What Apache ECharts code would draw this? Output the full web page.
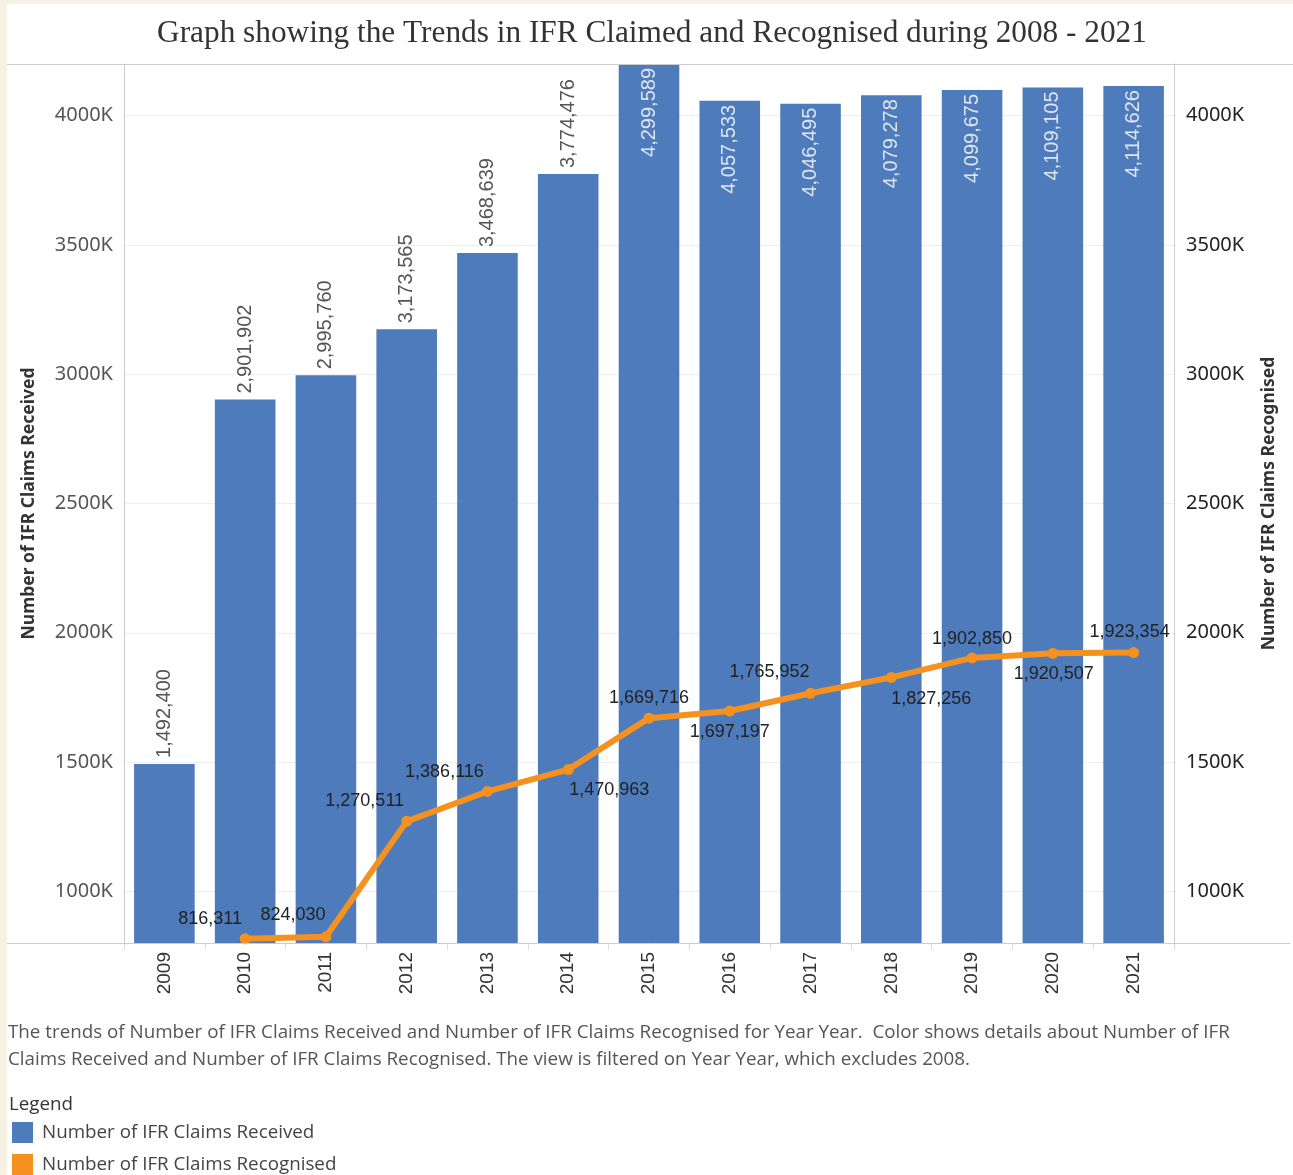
<!DOCTYPE html>
<html>
<head>
<meta charset="utf-8">
<script src="https://cdn.jsdelivr.net/npm/echarts@6/dist/echarts.min.js"></script>
<style>
html,body{margin:0;padding:0;background:#f6f1e3;}
#chart{width:1293px;height:1175px;}
</style>
</head>
<body>
<div id="chart"></div>
<script>
const years = ['2009','2010','2011','2012','2013','2014','2015','2016','2017','2018','2019','2020','2021'];
const received = [1492400, 2901902, 2995760, 3173565, 3468639, 3774476, 4299589, 4057533, 4046495, 4079278, 4099675, 4109105, 4114626];
const recognised = [null, 816311, 824030, 1270511, 1386116, 1470963, 1669716, 1697197, 1765952, 1827256, 1902850, 1920507, 1923354];
const yTicks = [1000000, 1500000, 2000000, 2500000, 3000000, 3500000, 4000000];
const yMin = 800000, yMax = 4200000;
const seriesNames = ['Number of IFR Claims Received', 'Number of IFR Claims Recognised'];

// label offsets for line labels (style only)
const lineLabelOffsets = [[0,0],[-35,-20],[-33,-22],[-42,-20],[-43,-19],[41,20],[0,-20],[0,21],[-41,-21],[40,22],[0,-19],[1,21],[-4,-21]];
const colors = ['#4e7bbb', '#f5911e'];

const fmt = v => v.toLocaleString('en-US');
const kfmt = v => (v/1000) + 'K';

const barData = received.map((v, i) => {
  const inside = v > 4000000;
  return {
    value: v,
    label: inside
      ? {position: 'insideTop', align: 'right', distance: 4, color: '#dfe6f1'}
      : {position: 'top', align: 'left', distance: 6, color: '#555'}
  };
});
const lineData = recognised.map((v, i) => ({
  value: v,
  label: {offset: lineLabelOffsets[i]}
}));

const chart = echarts.init(document.getElementById('chart'));
const gridLeft = 124, gridRight = 1293 - 1174, gridTop = 64, gridBottom = 1175 - 943;

const legendGraphics = [];
seriesNames.forEach((n, i) => {
  legendGraphics.push({type: 'rect', silent: true, shape: {x: 12, y: 1122 + i * 32, width: 21, height: 21}, style: {fill: colors[i]}});
  legendGraphics.push({type: 'text', silent: true, x: 42, y: 1133 + i * 32, style: {text: n, fontFamily: 'Open Sans', fontSize: 18.8, fill: '#444', verticalAlign: 'middle'}});
});

const option = {
  backgroundColor: '#f6f1e3',
  animation: false,
  title: {
    text: 'Graph showing the Trends in IFR Claimed and Recognised during 2008 - 2021',
    left: 647, textAlign: 'center', top: 13,
    textStyle: {fontFamily: 'Liberation Serif', fontSize: 31.3, fontWeight: 'normal', color: '#333'}
  },
  grid: {left: gridLeft, right: gridRight, top: gridTop, bottom: gridBottom},
  xAxis: {
    type: 'category', data: years,
    axisLine: {show: false},
    axisTick: {show: true, length: 7, lineStyle: {color: '#ddd'}},
    axisLabel: {rotate: 90, margin: 9, fontFamily: 'Liberation Sans', fontSize: 19, color: '#333'}
  },
  yAxis: [
    {
      type: 'value', min: yMin, max: yMax, position: 'left',
      name: seriesNames[0], nameLocation: 'middle', nameGap: 86, nameRotate: 90,
      nameTextStyle: {fontFamily: 'Noto Sans', fontSize: 17.5, fontWeight: 'bold', color: '#333'},
      axisLine: {show: true, lineStyle: {color: '#ccc'}},
      axisTick: {show: false, customValues: yTicks},
      axisLabel: {customValues: yTicks, formatter: kfmt, margin: 11, fontFamily: 'Noto Sans', fontSize: 20, color: '#555'},
      splitLine: {show: true, lineStyle: {color: '#eee', width: 1}}
    },
    {
      type: 'value', min: yMin, max: yMax, position: 'right',
      name: seriesNames[1], nameLocation: 'middle', nameGap: 86, nameRotate: 90,
      nameTextStyle: {fontFamily: 'Noto Sans', fontSize: 17.5, fontWeight: 'bold', color: '#333'},
      axisLine: {show: true, lineStyle: {color: '#ccc'}},
      axisTick: {show: false, customValues: yTicks},
      axisLabel: {customValues: yTicks, formatter: kfmt, margin: 12, fontFamily: 'Noto Sans', fontSize: 20, color: '#222'},
      splitLine: {show: false}
    }
  ],
  series: [
    {
      name: seriesNames[0], type: 'bar', yAxisIndex: 0,
      data: barData, barCategoryGap: '25%',
      itemStyle: {color: colors[0]},
      label: {show: true, rotate: 90, verticalAlign: 'middle', formatter: p => fmt(p.value),
        fontFamily: 'Liberation Sans', fontSize: 20}
    },
    {
      name: seriesNames[1], type: 'line', yAxisIndex: 1,
      data: lineData, connectNulls: false,
      symbol: 'circle', symbolSize: 11,
      lineStyle: {color: colors[1], width: 6},
      itemStyle: {color: colors[1]},
      z: 5,
      label: {show: true, position: 'inside', align: 'center', verticalAlign: 'middle',
        formatter: p => fmt(p.value), fontFamily: 'Liberation Sans', fontSize: 18, color: '#222'}
    }
  ],
  graphic: [
    {type: 'rect', z: -100, silent: true, shape: {x: 7, y: 4, width: 1286, height: 1171}, style: {fill: '#fff'}},
    {type: 'line', z: 10, silent: true, shape: {x1: 7, y1: 64.5, x2: 1293, y2: 64.5}, style: {stroke: '#ccc', lineWidth: 1}},
    {type: 'line', z: 10, silent: true, shape: {x1: 7, y1: 943.5, x2: 1290, y2: 943.5}, style: {stroke: '#ccc', lineWidth: 1}},
    {type: 'text', silent: true, x: 8, y: 1019, style: {
      text: 'The trends of Number of IFR Claims Received and Number of IFR Claims Recognised for Year Year.  Color shows details about Number of IFR\nClaims Received and Number of IFR Claims Recognised. The view is filtered on Year Year, which excludes 2008.',
      fontFamily: 'Open Sans', fontSize: 18.8, lineHeight: 27, fill: '#555'}},
    {type: 'text', silent: true, x: 9, y: 1105, style: {text: 'Legend', fontFamily: 'Open Sans', fontSize: 18.8, fill: '#333', verticalAlign: 'middle'}}
  ].concat(legendGraphics)
};
chart.setOption(option);
</script>
</body>
</html>
